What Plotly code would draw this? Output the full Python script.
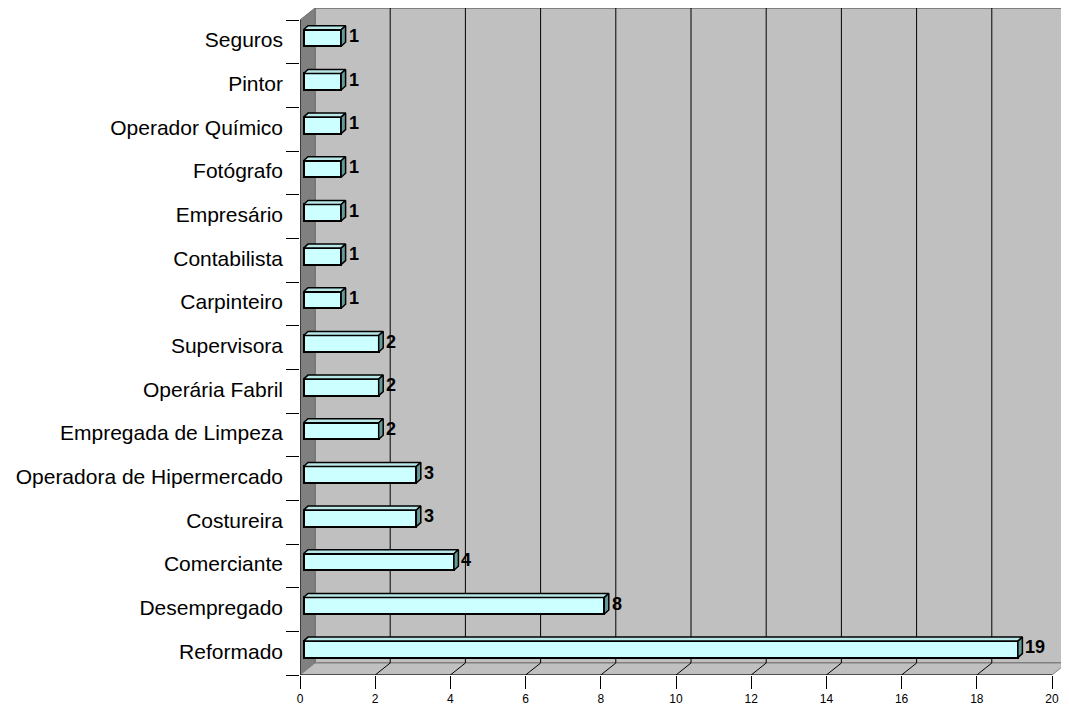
import plotly.graph_objects as go

# ---- data (bottom to top) ----
categories = ["Reformado", "Desempregado", "Comerciante", "Costureira",
              "Operadora de Hipermercado", "Empregada de Limpeza", "Operária Fabril",
              "Supervisora", "Carpinteiro", "Contabilista", "Empresário", "Fotógrafo",
              "Operador Químico", "Pintor", "Seguros"]
values = [19, 8, 4, 3, 3, 2, 2, 2, 1, 1, 1, 1, 1, 1, 1]
x_tick_vals = [0, 2, 4, 6, 8, 10, 12, 14, 16, 18, 20]
x_max = 20

# ---- geometry (page has an 8px body margin) ----
W, H = 1061, 698
ML, MR, MT, MB = 292, 2, 0, 31
n = len(categories)
PX_X = (1052 - 300) / x_max
PX_Y = (675 - 20) / n
XR = (W - ML - MR) / PX_X
YR0 = -0.5
YR1 = YR0 + (H - MT - MB) / PX_Y
DX, DY = 15 / PX_X, 12 / PX_Y            # wall depth
FX, FY = 3.5 / PX_X, 3.8 / PX_Y          # bar front offset
BW = 16.5 / PX_Y                          # bar thickness
BDX, BDY = 4.5 / PX_X, 4 / PX_Y          # bar depth

FONT = "Arial, Liberation Sans, sans-serif"

fig = go.Figure()

# top and side faces of 3D bars
top_x, top_y, side_x, side_y = [], [], [], []
for i, v in enumerate(values):
    yt = i + FY + BW / 2
    yb = i + FY - BW / 2
    x0, x1 = FX, v + FX
    top_x += [x0, x1, x1 + BDX, x0 + BDX, x0, None]
    top_y += [yt, yt, yt + BDY, yt + BDY, yt, None]
    side_x += [x1, x1, x1 + BDX, x1 + BDX, x1, None]
    side_y += [yb, yt, yt + BDY, yb + BDY, yb, None]

fig.add_trace(go.Bar(
    orientation="h", y=[i + FY for i in range(n)], x=values, base=FX, width=BW,
    marker=dict(color="#CCFFFF", line=dict(color="black", width=2)),
    hoverinfo="skip", showlegend=False))
fig.add_trace(go.Scatter(x=top_x, y=top_y, mode="lines", fill="toself",
                         fillcolor="#B8E8E8", line=dict(color="black", width=1.5),
                         hoverinfo="skip", showlegend=False))
fig.add_trace(go.Scatter(x=side_x, y=side_y, mode="lines", fill="toself",
                         fillcolor="#669999", line=dict(color="black", width=1.5),
                         hoverinfo="skip", showlegend=False))

# value labels
for i, v in enumerate(values):
    fig.add_annotation(x=v + FX + BDX, y=i + FY + BDY / 2, text=f"<b>{v}</b>",
                       showarrow=False, xanchor="left", yanchor="middle", xshift=1,
                       font=dict(family=FONT, size=18, color="black"))

shapes = []
top = n - 0.5
# back wall
shapes.append(dict(type="rect", xref="x", yref="y", x0=DX, x1=x_max + DX,
                   y0=YR0 + DY, y1=top + DY, fillcolor="#C0C0C0",
                   line=dict(color="#808080", width=2), layer="below"))
# left wall
shapes.append(dict(type="path", xref="x", yref="y",
                   path=f"M 0,{YR0} L {DX},{YR0 + DY} L {DX},{top + DY} L 0,{top} Z",
                   fillcolor="#808080", line=dict(color="#707070", width=1), layer="below"))
# floor
shapes.append(dict(type="path", xref="x", yref="y",
                   path=f"M 0,{YR0} L {x_max},{YR0} L {x_max + DX},{YR0 + DY} L {DX},{YR0 + DY} Z",
                   fillcolor="#C0C0C0", line=dict(color="#808080", width=1), layer="below"))
# gridlines on back wall and floor
for k in x_tick_vals[1:-1]:
    shapes.append(dict(type="line", xref="x", yref="y", x0=k + DX, x1=k + DX,
                       y0=YR0 + DY, y1=top + DY, line=dict(color="black", width=1),
                       layer="below"))
    shapes.append(dict(type="line", xref="x", yref="y", x0=k, x1=k + DX,
                       y0=YR0, y1=YR0 + DY, line=dict(color="black", width=1),
                       layer="below"))
# front axis lines
shapes.append(dict(type="line", xref="x", yref="y", x0=0, x1=x_max, y0=YR0, y1=YR0,
                   line=dict(color="black", width=1), layer="below"))
shapes.append(dict(type="line", xref="x", yref="y", x0=0, x1=0, y0=YR0, y1=top,
                   line=dict(color="black", width=1), layer="below"))

fig.update_layout(
    width=W, height=H,
    margin=dict(l=ML, r=MR, t=MT, b=MB, pad=0),
    paper_bgcolor="white", plot_bgcolor="white",
    shapes=shapes, bargap=0,
    font=dict(family=FONT, color="black"),
    xaxis=dict(range=[0, XR], tickvals=x_tick_vals, ticks="outside", ticklen=13,
               tickcolor="black", tickwidth=1, tickfont=dict(size=12),
               ticklabelstandoff=0,
               showgrid=False, zeroline=False, showline=False, fixedrange=True),
    yaxis=dict(range=[YR0, YR1], tickvals=list(range(n)), ticktext=categories,
               ticks="", tickfont=dict(size=21), ticklabelstandoff=16,
               ticklabelshift=-2,
               minor=dict(tickvals=[i - 0.5 for i in range(n + 1)], ticks="outside",
                          ticklen=13, tickcolor="black", tickwidth=1),
               showgrid=False, zeroline=False, showline=False, fixedrange=True),
)

fig.write_html("out.html")
